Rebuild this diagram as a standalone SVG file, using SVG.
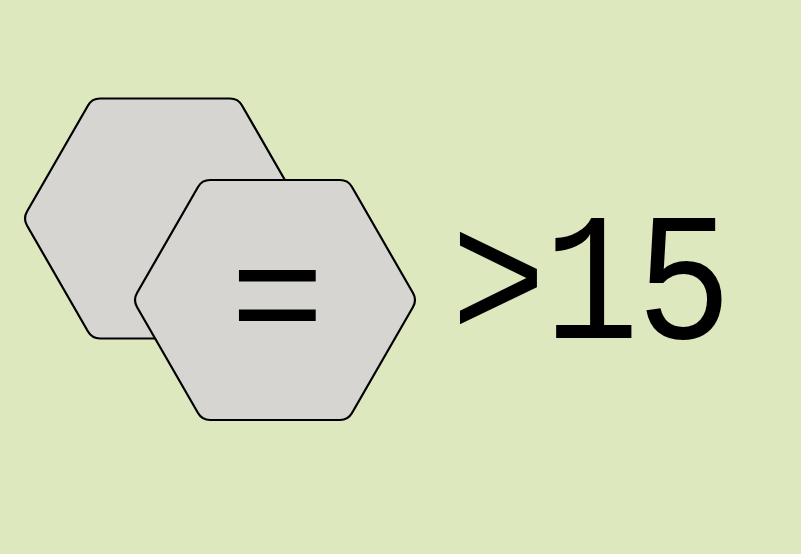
<svg xmlns="http://www.w3.org/2000/svg" xmlns:xlink="http://www.w3.org/1999/xlink" width="801" height="554" viewBox="0 0 801 554">
  <style>
    .hex { fill: #d6d5d2; stroke: #000; stroke-width: 2.2; stroke-linejoin: round; }
    .lbl { font-family: "Liberation Mono", "DejaVu Sans Mono", monospace; fill: #000; }
  </style>
  <defs>
    <path id="hexshape" d="M -138,-6.93 L -77,-113.07 Q -73,-120 -65,-120 L 65,-120 Q 73,-120 77,-113.07 L 138,-6.93 Q 142,0 138,6.93 L 77,113.07 Q 73,120 65,120 L -65,120 Q -73,120 -77,113.07 L -138,6.93 Q -142,0 -138,-6.93 Z"/>
  </defs>
  <rect x="0" y="0" width="801" height="554" fill="#dde8bf"/>
  <g id="hex-back">
    <use xlink:href="#hexshape" href="#hexshape" class="hex" transform="translate(165,218.5)"/>
  </g>
  <g id="hex-front">
    <use xlink:href="#hexshape" href="#hexshape" class="hex" transform="translate(275,300)"/>
    <text class="lbl" x="277.5" y="347.5" font-size="158" text-anchor="middle">=</text>
  </g>
  <g id="connectors"></g>
  <g id="label">
    <text class="lbl" transform="scale(0.87,1)" x="518.4 625.2 731.6" y="338" font-size="182">&gt;15</text>
  </g>
</svg>
